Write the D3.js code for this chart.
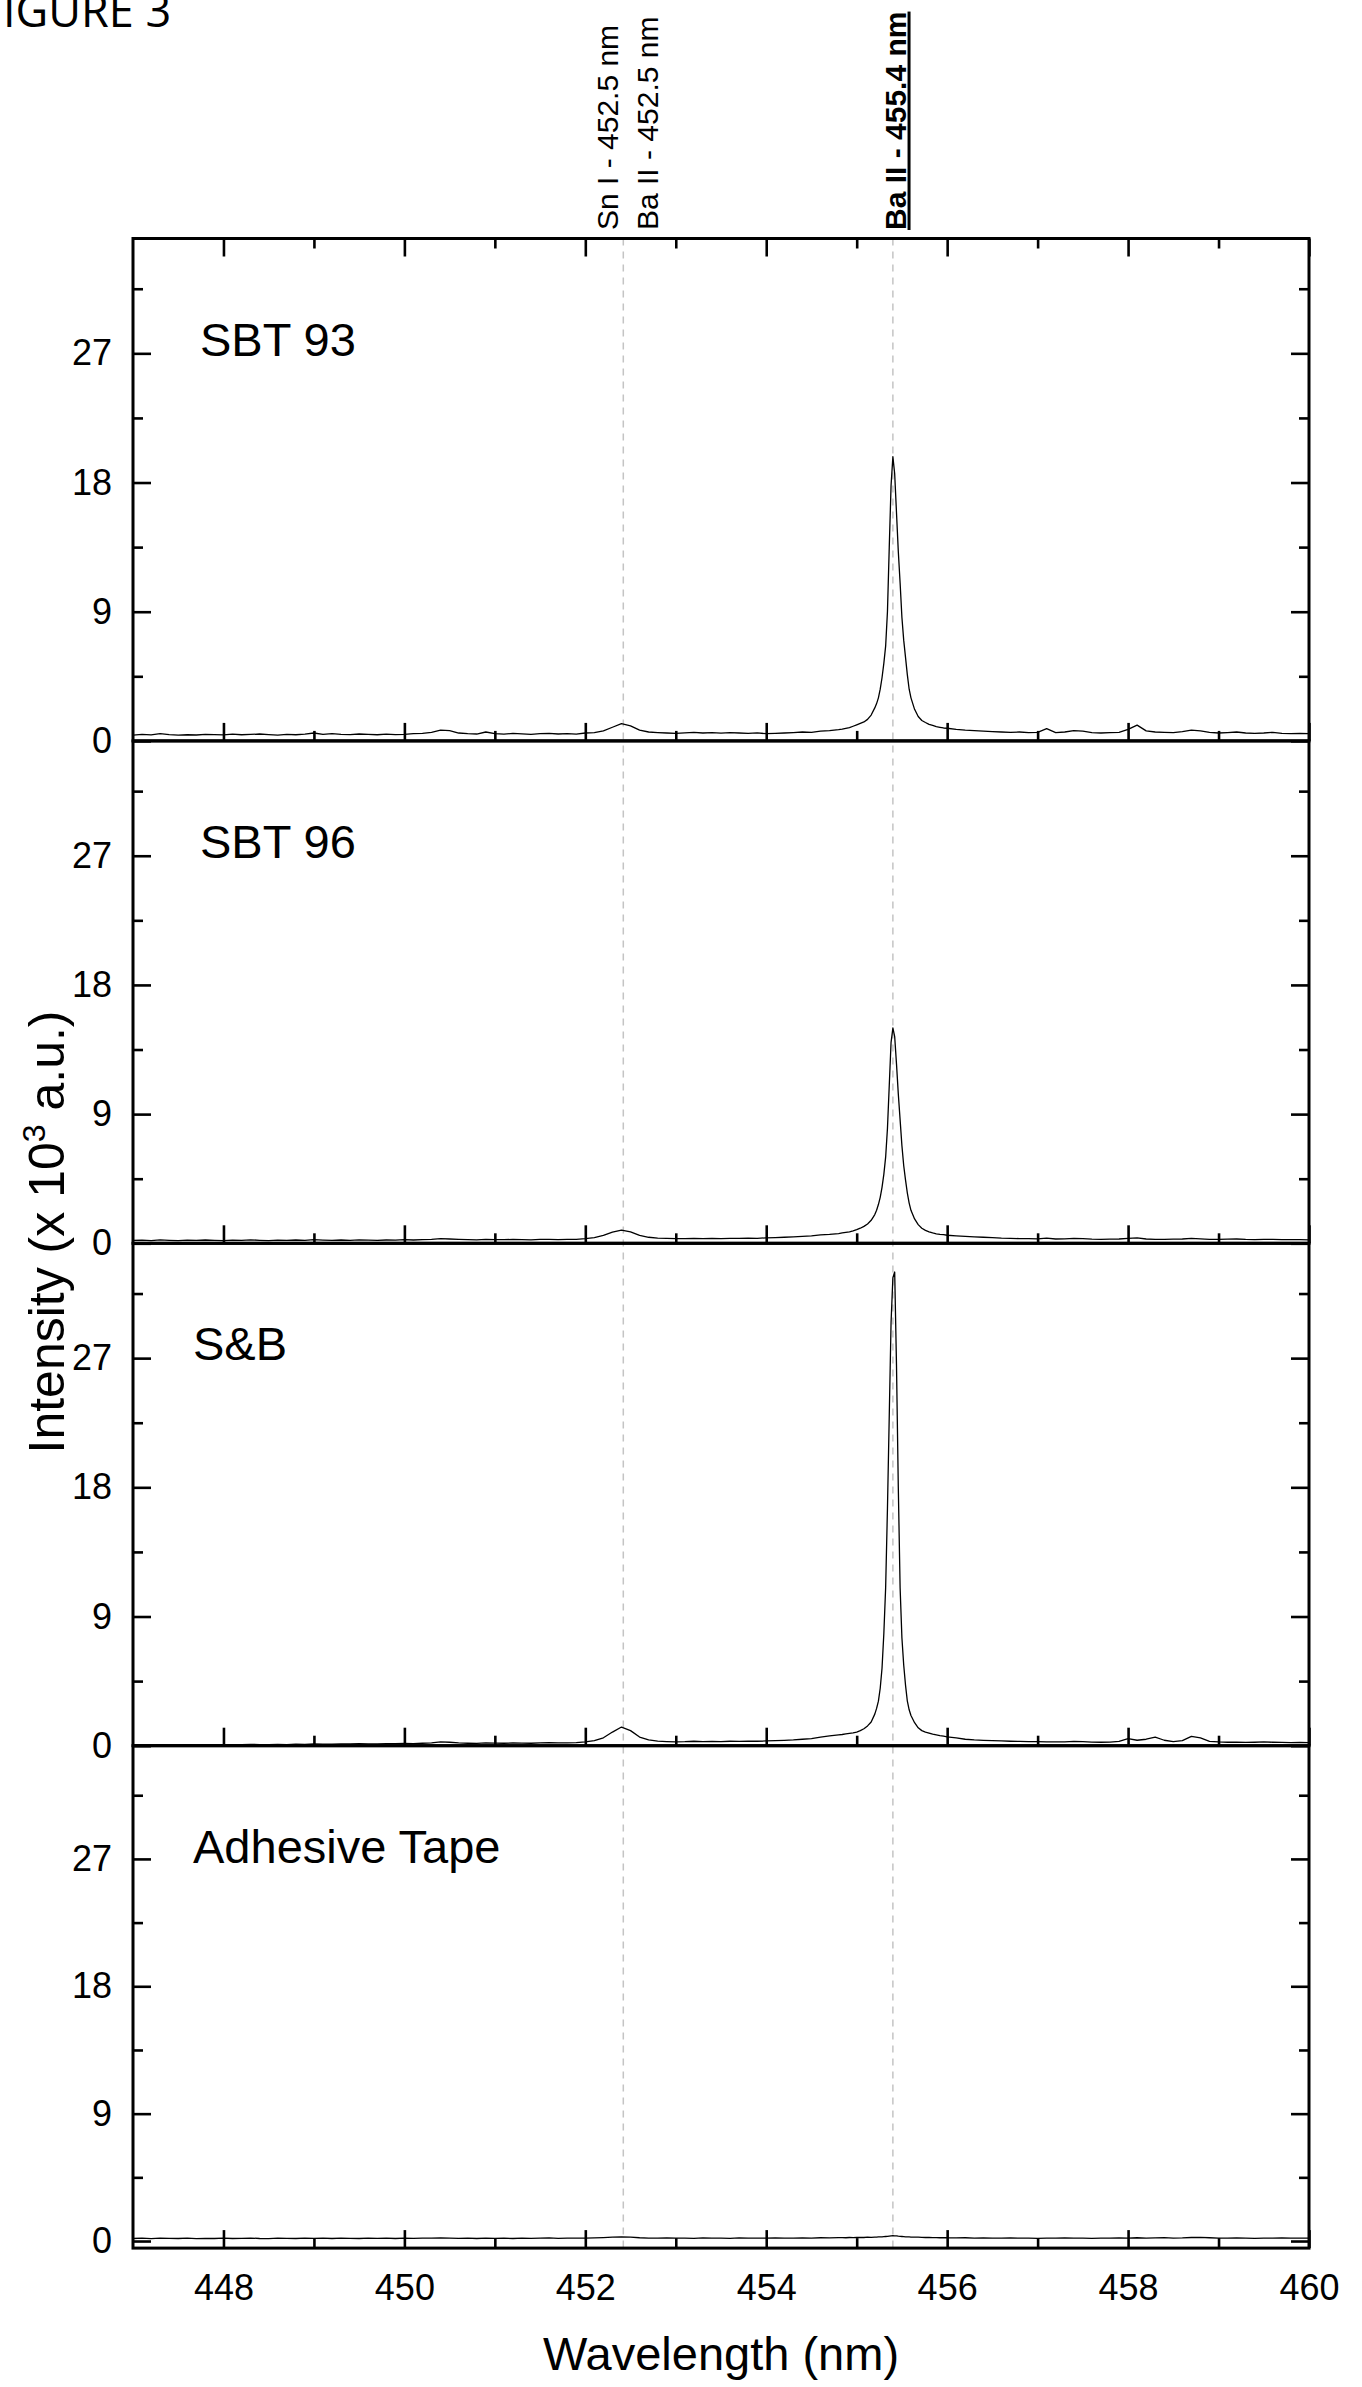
<!DOCTYPE html>
<html>

<head>
  <meta charset="UTF-8">
  <title>Figure 3</title>
  <script src="https://d3js.org/d3.v7.min.js"></script>
  <style>
    body {
      margin: 0;
      background: #fff;
    }

    svg text {
      font-family: "Liberation Sans", Arial, sans-serif;
      fill: #000;
    }
  </style>
</head>

<body>
  <svg></svg>

  <script>
    // wavelength grid (nm), finer around the Ba II 455.4 line
    const wavelength = [
      447.0, 447.1, 447.2, 447.3, 447.4, 447.5, 447.6, 447.7, 447.8, 447.9,
      448.0, 448.1, 448.2, 448.3, 448.4, 448.5, 448.6, 448.7, 448.8, 448.9,
      449.0, 449.1, 449.2, 449.3, 449.4, 449.5, 449.6, 449.7, 449.8, 449.9,
      450.0, 450.1, 450.2, 450.3, 450.4, 450.5, 450.6, 450.7, 450.8, 450.9,
      451.0, 451.1, 451.2, 451.3, 451.4, 451.5, 451.6, 451.7, 451.8, 451.9,
      452.0, 452.1, 452.2, 452.3, 452.4, 452.5, 452.6, 452.7, 452.8, 452.9,
      453.0, 453.1, 453.2, 453.3, 453.4, 453.5, 453.6, 453.7, 453.8, 453.9,
      454.0, 454.1, 454.2, 454.3, 454.4, 454.5, 454.6, 454.7, 454.8,
      454.84, 454.88, 454.92, 454.96, 455.00, 455.04, 455.08, 455.12, 455.16, 455.20,
      455.22, 455.24, 455.26, 455.28, 455.30, 455.32, 455.34, 455.36, 455.38, 455.40,
      455.42, 455.44, 455.46, 455.48, 455.50, 455.52, 455.54, 455.56, 455.58, 455.60,
      455.64, 455.68, 455.72, 455.76, 455.80, 455.84, 455.88, 455.92, 455.96, 456.00,
      456.1, 456.2, 456.3, 456.4, 456.5, 456.6, 456.7, 456.8, 456.9, 457.0,
      457.1, 457.2, 457.3, 457.4, 457.5, 457.6, 457.7, 457.8, 457.9, 458.0,
      458.1, 458.2, 458.3, 458.4, 458.5, 458.6, 458.7, 458.8, 458.9, 459.0,
      459.1, 459.2, 459.3, 459.4, 459.5, 459.6, 459.7, 459.8, 459.9, 460.0
    ];

    // intensities (x 10^3 a.u.)
    const sbt93 = [
      0.40, 0.45, 0.42, 0.50, 0.44, 0.40, 0.43, 0.41, 0.46, 0.44,
      0.42, 0.47, 0.43, 0.45, 0.48, 0.44, 0.40, 0.45, 0.43, 0.47,
      0.55, 0.45, 0.50, 0.46, 0.44, 0.48, 0.45, 0.43, 0.47, 0.44,
      0.46, 0.50, 0.52, 0.60, 0.75, 0.72, 0.55, 0.50, 0.48, 0.62,
      0.50, 0.47, 0.52, 0.49, 0.46, 0.50, 0.53, 0.48, 0.50, 0.47,
      0.55, 0.58, 0.70, 0.95, 1.20, 1.05, 0.75, 0.62, 0.58, 0.55,
      0.52, 0.56, 0.60, 0.55, 0.58, 0.54, 0.57, 0.55, 0.52, 0.56,
      0.50, 0.53, 0.55, 0.58, 0.62, 0.60, 0.68, 0.72, 0.78,
      0.82, 0.88, 0.92, 1.02, 1.12, 1.22, 1.32, 1.50, 1.80, 2.30,
      2.6, 3.0, 3.6, 4.4, 5.4, 6.6, 9.0, 13.5, 17.8, 19.8,
      18.6, 15.9, 13.2, 11.0, 8.6, 7.0, 5.8, 4.6, 3.6, 3.0,
      2.2, 1.7, 1.42, 1.28, 1.15, 1.08, 1.0, 0.95, 0.9, 0.88,
      0.80, 0.75, 0.72, 0.68, 0.65, 0.62, 0.60, 0.62, 0.58, 0.60,
      0.85, 0.58, 0.62, 0.72, 0.68, 0.58, 0.55, 0.57, 0.60, 0.80,
      1.10, 0.70, 0.62, 0.60, 0.57, 0.65, 0.75, 0.70, 0.60, 0.55,
      0.58, 0.62, 0.55, 0.52, 0.55, 0.60, 0.52, 0.50, 0.53, 0.50
    ];

    const sbt96 = [
      0.20, 0.22, 0.19, 0.24, 0.21, 0.18, 0.22, 0.20, 0.23, 0.21,
      0.19, 0.22, 0.20, 0.24, 0.21, 0.19, 0.22, 0.20, 0.23, 0.21,
      0.25, 0.22, 0.20, 0.23, 0.21, 0.24, 0.22, 0.20, 0.23, 0.22,
      0.25, 0.23, 0.26, 0.28, 0.32, 0.30, 0.27, 0.25, 0.24, 0.28,
      0.26, 0.25, 0.27, 0.26, 0.24, 0.27, 0.28, 0.26, 0.27, 0.28,
      0.32, 0.40, 0.55, 0.78, 0.92, 0.80, 0.55, 0.42, 0.36, 0.34,
      0.32, 0.33, 0.35, 0.32, 0.34, 0.33, 0.35, 0.34, 0.36, 0.35,
      0.38, 0.40, 0.42, 0.45, 0.48, 0.52, 0.58, 0.62, 0.68,
      0.72, 0.76, 0.80, 0.86, 0.95, 1.05, 1.18, 1.35, 1.60, 2.00,
      2.3, 2.7, 3.2, 3.9, 4.8, 6.0, 8.0, 11.0, 14.0, 15.0,
      14.4, 12.5, 10.4, 8.6, 6.8, 5.4, 4.4, 3.5, 2.8, 2.3,
      1.7, 1.3, 1.05, 0.90, 0.80, 0.72, 0.66, 0.62, 0.60, 0.56,
      0.52, 0.48, 0.45, 0.42, 0.40, 0.36, 0.34, 0.33, 0.32, 0.31,
      0.36, 0.30, 0.31, 0.35, 0.32, 0.29, 0.28, 0.29, 0.30, 0.34,
      0.38, 0.30, 0.28, 0.27, 0.29, 0.30, 0.34, 0.31, 0.28, 0.27,
      0.29, 0.30, 0.27, 0.26, 0.28, 0.27, 0.25, 0.26, 0.25, 0.24
    ];

    const sAndB = [
      0.05, 0.06, 0.05, 0.07, 0.06, 0.05, 0.07, 0.06, 0.08, 0.07,
      0.06, 0.08, 0.07, 0.09, 0.08, 0.07, 0.09, 0.08, 0.10, 0.09,
      0.12, 0.11, 0.10, 0.13, 0.12, 0.14, 0.13, 0.12, 0.15, 0.14,
      0.16, 0.15, 0.17, 0.20, 0.26, 0.24, 0.19, 0.17, 0.16, 0.20,
      0.18, 0.17, 0.19, 0.18, 0.17, 0.19, 0.21, 0.19, 0.20, 0.22,
      0.26, 0.35, 0.55, 0.95, 1.30, 1.05, 0.60, 0.40, 0.32, 0.29,
      0.27, 0.28, 0.31, 0.28, 0.30, 0.29, 0.31, 0.30, 0.32, 0.31,
      0.33, 0.35, 0.37, 0.40, 0.45, 0.50, 0.60, 0.68, 0.75,
      0.78, 0.82, 0.86, 0.90, 0.95, 1.05, 1.18, 1.38, 1.65, 2.20,
      2.6, 3.1, 4.0, 5.4, 7.8, 11.0, 16.5, 23.0, 29.5, 32.6,
      33.0, 26.5, 18.0, 11.0, 7.5, 5.6, 4.2, 3.1, 2.5, 2.1,
      1.6, 1.25, 1.05, 0.95, 0.88, 0.80, 0.75, 0.70, 0.66, 0.62,
      0.55, 0.45, 0.40, 0.37, 0.35, 0.33, 0.31, 0.30, 0.29, 0.28,
      0.27, 0.26, 0.27, 0.30, 0.28, 0.25, 0.24, 0.25, 0.30, 0.50,
      0.38, 0.45, 0.60, 0.38, 0.28, 0.35, 0.65, 0.55, 0.30, 0.26,
      0.24, 0.25, 0.23, 0.24, 0.26, 0.24, 0.23, 0.22, 0.23, 0.22
    ];

    const tape = [
      0.18, 0.20, 0.17, 0.21, 0.19, 0.18, 0.20, 0.17, 0.19, 0.18,
      0.20, 0.18, 0.19, 0.21, 0.18, 0.17, 0.20, 0.19, 0.18, 0.20,
      0.19, 0.21, 0.18, 0.20, 0.19, 0.18, 0.21, 0.19, 0.20, 0.18,
      0.20, 0.19, 0.21, 0.20, 0.22, 0.21, 0.19, 0.20, 0.18, 0.21,
      0.19, 0.20, 0.18, 0.21, 0.19, 0.20, 0.22, 0.19, 0.21, 0.20,
      0.21, 0.22, 0.24, 0.27, 0.30, 0.27, 0.23, 0.21, 0.20, 0.22,
      0.20, 0.21, 0.19, 0.22, 0.20, 0.21, 0.19, 0.22, 0.20, 0.21,
      0.20, 0.22, 0.21, 0.20, 0.22, 0.21, 0.23, 0.22, 0.24,
      0.24, 0.23, 0.25, 0.24, 0.25, 0.26, 0.25, 0.27, 0.26, 0.28,
      0.28, 0.29, 0.29, 0.30, 0.31, 0.32, 0.33, 0.35, 0.37, 0.38,
      0.37, 0.36, 0.34, 0.33, 0.32, 0.31, 0.30, 0.29, 0.29, 0.28,
      0.27, 0.27, 0.26, 0.25, 0.25, 0.24, 0.24, 0.23, 0.24, 0.23,
      0.22, 0.23, 0.21, 0.22, 0.20, 0.21, 0.22, 0.20, 0.21, 0.19,
      0.21, 0.20, 0.22, 0.21, 0.20, 0.19, 0.21, 0.20, 0.22, 0.21,
      0.23, 0.21, 0.22, 0.24, 0.21, 0.22, 0.25, 0.26, 0.23, 0.21,
      0.20, 0.22, 0.21, 0.19, 0.21, 0.20, 0.22, 0.20, 0.21, 0.20
    ];

    const panelNames = ["SBT 93", "SBT 96", "S&B", "Adhesive Tape"];
    const panelSeries = [sbt93, sbt96, sAndB, tape];

    const yMajor = [0, 9, 18, 27];
    const yMinor = [4.5, 13.5, 22.5, 31.5];
    const xMajor = [448, 450, 452, 454, 456, 458, 460];
    const xMinor = [449, 451, 453, 455, 457, 459];

    const markerLines = [452.42, 455.40];
    const markerLabels = [
      { text: "Sn I - 452.5 nm", x: 452.36, bold: false },
      { text: "Ba II - 452.5 nm", x: 452.80, bold: false },
      { text: "Ba II - 455.4 nm", x: 455.54, bold: true }
    ];

    let width = 1362,
      height = 2387;

    let svg = d3.select("svg")
      .attr("width", width)
      .attr("height", height);

    let plotLeft = 133,
      plotRight = 1309,
      plotTop = 238.5,
      panelH = 502.4,
      plotBottom = plotTop + 4 * panelH;

    let x = d3.scaleLinear().domain([447, 460]).range([plotLeft, plotRight]);

    // top-left caption, cut off at the page edge like the original scan
    svg.append("text")
      .attr("x", 3)
      .attr("y", 27)
      .style("font-family", "'Open Sans', sans-serif")
      .attr("font-size", 45)
      .text("IGURE 3");

    // reference lines
    svg.append("g")
      .selectAll("line")
      .data(markerLines)
      .join("line")
      .attr("x1", d => x(d))
      .attr("x2", d => x(d))
      .attr("y1", plotTop)
      .attr("y2", plotBottom)
      .attr("stroke", "#c4c4c4")
      .attr("stroke-width", 1.5)
      .attr("stroke-dasharray", "7,6");

    // rotated line labels above the frame
    svg.append("g")
      .selectAll("text")
      .data(markerLabels)
      .join("text")
      .attr("transform", d => "translate(" + x(d.x) + ",230) rotate(-90)")
      .attr("font-size", 30)
      .attr("font-weight", d => d.bold ? "bold" : "normal")
      .style("text-decoration", d => d.bold ? "underline" : "none")
      .text(d => d.text);

    function styleAxis(g, labelSize) {
      g.select(".domain").remove();
      g.selectAll(".tick line").attr("stroke", "#000").attr("stroke-width", 2.6);
      g.attr("font-size", labelSize).attr("font-family", "'Liberation Sans', Arial, sans-serif");
    }

    panelSeries.forEach((series, i) => {
      let y0 = plotTop + i * panelH,
        y1 = y0 + panelH;
      let y = d3.scaleLinear()
        .domain([i == 3 ? -0.5 : 0, 35])
        .range([y1, y0]);

      let line = d3.line()
        .x((d, k) => x(wavelength[k]))
        .y(d => y(d));

      svg.append("path")
        .datum(series)
        .attr("d", line)
        .attr("fill", "none")
        .attr("stroke", "#000")
        .attr("stroke-width", 1.3)
        .attr("stroke-linejoin", "round");

      // left axis
      svg.append("g")
        .attr("transform", "translate(" + plotLeft + ",0)")
        .call(d3.axisLeft(y).tickValues(yMajor).tickSizeInner(-18).tickSizeOuter(0).tickPadding(21))
        .call(g => styleAxis(g, 36));
      svg.append("g")
        .attr("transform", "translate(" + plotLeft + ",0)")
        .call(d3.axisLeft(y).tickValues(yMinor).tickSizeInner(-10).tickSizeOuter(0).tickFormat(""))
        .call(g => styleAxis(g, 36));

      // right axis
      svg.append("g")
        .attr("transform", "translate(" + plotRight + ",0)")
        .call(d3.axisRight(y).tickValues(yMajor).tickSizeInner(-18).tickSizeOuter(0).tickFormat(""))
        .call(g => styleAxis(g, 36));
      svg.append("g")
        .attr("transform", "translate(" + plotRight + ",0)")
        .call(d3.axisRight(y).tickValues(yMinor).tickSizeInner(-10).tickSizeOuter(0).tickFormat(""))
        .call(g => styleAxis(g, 36));

      // bottom axis, labels only under the last panel
      svg.append("g")
        .attr("transform", "translate(0," + y1 + ")")
        .call(d3.axisBottom(x).tickValues(xMajor).tickSizeInner(-18).tickSizeOuter(0).tickPadding(26)
          .tickFormat(i == 3 ? d3.format("d") : ""))
        .call(g => styleAxis(g, 36));
      svg.append("g")
        .attr("transform", "translate(0," + y1 + ")")
        .call(d3.axisBottom(x).tickValues(xMinor).tickSizeInner(-10).tickSizeOuter(0).tickFormat(""))
        .call(g => styleAxis(g, 36));

      if (i == 0) {
        svg.append("g")
          .attr("transform", "translate(0," + y0 + ")")
          .call(d3.axisTop(x).tickValues(xMajor).tickSizeInner(-18).tickSizeOuter(0).tickFormat(""))
          .call(g => styleAxis(g, 36));
        svg.append("g")
          .attr("transform", "translate(0," + y0 + ")")
          .call(d3.axisTop(x).tickValues(xMinor).tickSizeInner(-10).tickSizeOuter(0).tickFormat(""))
          .call(g => styleAxis(g, 36));
      }

      // frame
      svg.append("rect")
        .attr("x", plotLeft)
        .attr("y", y0)
        .attr("width", plotRight - plotLeft)
        .attr("height", panelH)
        .attr("fill", "none")
        .attr("stroke", "#000")
        .attr("stroke-width", 3);

      svg.append("text")
        .attr("x", i < 2 ? 200 : 193)
        .attr("y", y0 + 117)
        .attr("font-size", 47)
        .text(panelNames[i]);
    });

    // axis titles
    svg.append("text")
      .attr("x", (plotLeft + plotRight) / 2)
      .attr("y", 2370)
      .attr("text-anchor", "middle")
      .attr("font-size", 47)
      .text("Wavelength (nm)");

    let yTitle = svg.append("text")
      .attr("transform", "translate(64,1232) rotate(-90)")
      .attr("text-anchor", "middle")
      .attr("font-size", 50);
    yTitle.append("tspan").text("Intensity (x 10");
    yTitle.append("tspan").attr("dy", -19).attr("font-size", 32).text("3");
    yTitle.append("tspan").attr("dy", 19).text(" a.u.)");
  </script>

</body>

</html>
